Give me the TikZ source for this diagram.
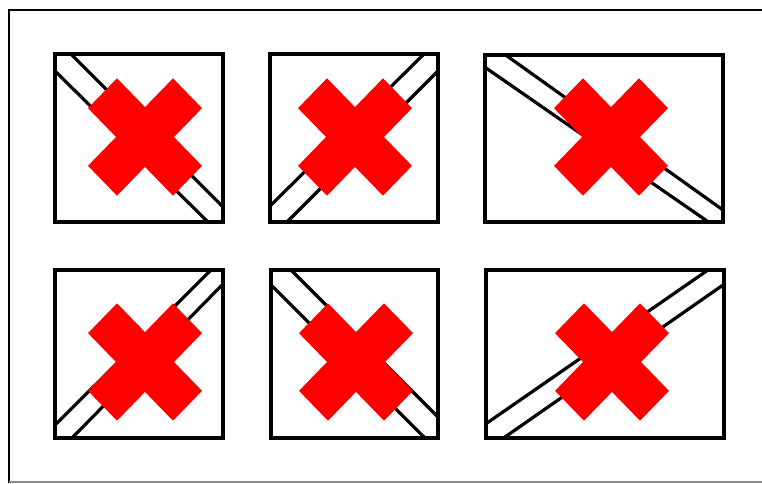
\documentclass[tikz,border=0pt]{standalone}
\usepackage{tikz}
\begin{document}
\begin{tikzpicture}[x=1pt,y=-1pt,
  frame/.style={line width=2.6pt},
  box/.style={line width=3.6pt},
  rail/.style={line width=3.2pt},
  cross/.style={fill=red}]
\useasboundingbox (0,0) rectangle (762,483);
\draw[frame] (762,10) -- (9,10) -- (9,483);
\draw[line width=1.2pt,black!45] (9,482) -- (762,482);
\draw[box] (55,54) rectangle (223,222);
\draw[rail] (72,55) -- (222,206); \draw[rail] (56,72) -- (207,221);
\draw[box] (270,54) rectangle (438,222);
\draw[rail] (271,205) -- (423,55); \draw[rail] (288,221) -- (437,72);
\draw[box] (485,55) rectangle (723,222);
\draw[rail] (507,56) -- (723,210); \draw[rail] (486,68) -- (707,221);
\draw[box] (55,270) rectangle (223,438);
\draw[rail] (56,424) -- (211,270); \draw[rail] (73,437) -- (222,285);
\draw[box] (271,270) rectangle (438,438);
\draw[rail] (291,270) -- (438,417); \draw[rail] (272,286) -- (424,437);
\draw[box] (486,270) rectangle (724,438);
\draw[rail] (487,423) -- (708,270); \draw[rail] (505,437) -- (723,285);
\foreach \cx/\cy in {145/137,355/137,611/137,145/362,356/362,612/362}
  \fill[cross,shift={(\cx,\cy)},yscale=1.03] (0,-29) -- (28,-57) -- (57,-28) -- (29,0) -- (57,28) -- (28,57) -- (0,29) -- (-28,57) -- (-57,28) -- (-29,0) -- (-57,-28) -- (-28,-57) -- cycle;
\end{tikzpicture}
\end{document}
